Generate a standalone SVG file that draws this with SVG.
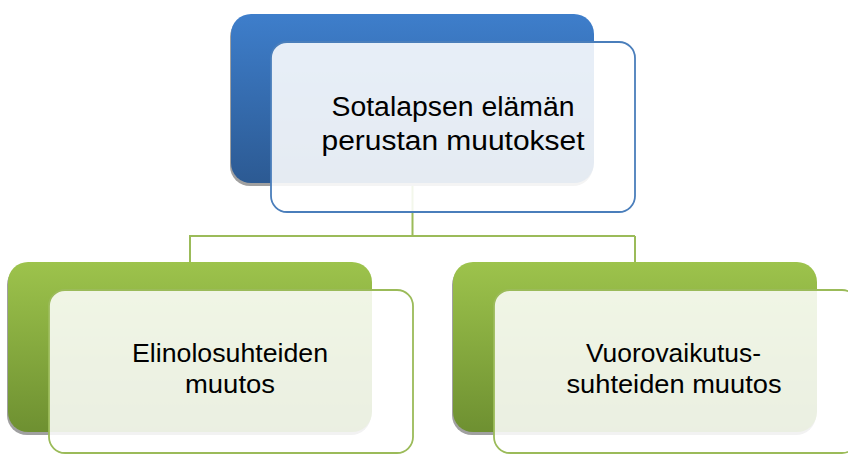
<svg xmlns="http://www.w3.org/2000/svg" width="848" height="455" viewBox="0 0 848 455">
  <defs>
    <linearGradient id="gBlue" x1="0" y1="0" x2="0" y2="1">
      <stop offset="0" stop-color="#3E7ECB"/>
      <stop offset="1" stop-color="#2C5A93"/>
    </linearGradient>
    <linearGradient id="gGreen" x1="0" y1="0" x2="0" y2="1">
      <stop offset="0" stop-color="#9DC34C"/>
      <stop offset="1" stop-color="#6E9031"/>
    </linearGradient>
  </defs>
  <style>
    .shadow { fill: #A0A0A0; }
    .backBlue { fill: url(#gBlue); }
    .backGreen { fill: url(#gGreen); }
    .frontBlue { fill: #FFFFFF; fill-opacity: 0.88; stroke: #4A7EBB; stroke-width: 1.8; }
    .frontGreen { fill: #FFFFFF; fill-opacity: 0.86; stroke: #9BBB59; stroke-width: 1.8; }
    .conn { fill: none; stroke: #9BBB59; stroke-width: 2; }
    .label { font-family: "Liberation Sans", Arial, sans-serif; fill: #000000; text-anchor: middle; }
  </style>

  <g id="connectors">
    <path class="conn" d="M412.5 183 V236 M189 236 H635 M190 236 V262 M635 236 V262"/>
  </g>

  <g id="node-root">
    <rect class="shadow" x="230" y="17" width="363" height="169" rx="20"/>
    <rect class="backBlue" x="231" y="14" width="363" height="169" rx="20"/>
    <rect class="frontBlue" x="271" y="42" width="364" height="170" rx="16"/>
    <text class="label" font-size="27" x="453" y="115.5" textLength="243" lengthAdjust="spacingAndGlyphs">Sotalapsen elämän</text>
    <text class="label" font-size="27" x="453" y="150" textLength="263" lengthAdjust="spacingAndGlyphs">perustan muutokset</text>
  </g>

  <g id="node-left">
    <rect class="shadow" x="7" y="265" width="364" height="170" rx="20"/>
    <rect class="backGreen" x="8" y="262" width="364" height="170" rx="20"/>
    <rect class="frontGreen" x="49" y="290" width="364" height="163" rx="16"/>
    <text class="label" font-size="26" x="230" y="362" textLength="196" lengthAdjust="spacingAndGlyphs">Elinolosuhteiden</text>
    <text class="label" font-size="26" x="230" y="393" textLength="90" lengthAdjust="spacingAndGlyphs">muutos</text>
  </g>

  <g id="node-right">
    <rect class="shadow" x="452" y="265" width="364" height="170" rx="20"/>
    <rect class="backGreen" x="453" y="262" width="364" height="170" rx="20"/>
    <rect class="frontGreen" x="494" y="290" width="364" height="163" rx="16"/>
    <text class="label" font-size="26" x="673.5" y="362" textLength="175" lengthAdjust="spacingAndGlyphs">Vuorovaikutus-</text>
    <text class="label" font-size="26" x="674" y="393" textLength="215" lengthAdjust="spacingAndGlyphs">suhteiden muutos</text>
  </g>
</svg>
